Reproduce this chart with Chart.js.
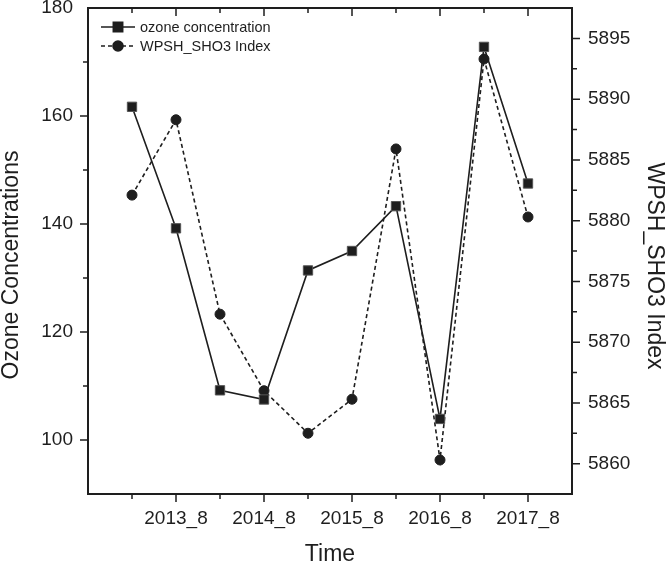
<!DOCTYPE html>
<html lang="en">
<head>
    <meta charset="UTF-8">
    <title>Ozone concentration and WPSH_SHO3 Index</title>
    <script src="https://cdn.jsdelivr.net/npm/chart.js"></script>
    <style>
        html, body {
            margin: 0;
            padding: 0;
            background: #fff;
        }
        .chart-container {
            width: 666px;
            height: 565px;
        }
    </style>
</head>
<body>
    <div class="chart-container">
        <canvas id="ozoneChart"></canvas>
    </div>
    <script>
        // point positions on the time axis (half-year steps)
        const positions = [1, 2, 3, 4, 5, 6, 7, 8, 9, 10];
        const ozone = [161.7, 139.2, 109.2, 107.5, 131.4, 135.0, 143.3, 103.9, 172.8, 147.5];
        const wpsh = [5882.1, 5888.3, 5872.3, 5866.0, 5862.5, 5865.3, 5885.9, 5860.3, 5893.3, 5880.3];
        const xTickPos = [2, 4, 6, 8, 10];
        const xTickLabels = ['2013_8', '2014_8', '2015_8', '2016_8', '2017_8'];
        const leftTicks = [100, 120, 140, 160, 180];
        const rightTicks = [5860, 5865, 5870, 5875, 5880, 5885, 5890, 5895];

        const FONT = "'Liberation Sans', Arial, sans-serif";
        const INK = '#1e1e1e';

        function fixedSize(size) {
            return function(scale) {
                if (scale.isHorizontal()) {
                    scale.height = size;
                } else {
                    scale.width = size;
                }
                scale.paddingTop = 0;
                scale.paddingBottom = 0;
                scale.paddingLeft = 0;
                scale.paddingRight = 0;
            };
        }

        // axis frame with major and minor ticks
        const framePlugin = {
            id: 'frame',
            afterDraw(chart) {
                const { ctx, chartArea: { left, right, top, bottom } } = chart;
                const x = chart.scales.x, yl = chart.scales.y, yr = chart.scales.y1;
                ctx.save();
                ctx.strokeStyle = INK;
                ctx.lineWidth = 2;
                ctx.strokeRect(left, top, right - left, bottom - top);
                ctx.lineWidth = 1.5;
                ctx.beginPath();
                for (let v = x.min + 1; v < x.max; v++) {
                    const px = x.getPixelForValue(v);
                    const len = xTickPos.includes(v) ? 8 : 5;
                    ctx.moveTo(px, bottom); ctx.lineTo(px, bottom + len);
                    ctx.moveTo(px, top); ctx.lineTo(px, top + len);
                }
                for (let v = yl.min + 10; v < yl.max; v += 10) {
                    const py = yl.getPixelForValue(v);
                    const len = leftTicks.includes(v) ? 8 : 5;
                    ctx.moveTo(left, py); ctx.lineTo(left - len, py);
                }
                for (let v = yr.min + 2.5; v < yr.max; v += 2.5) {
                    const py = yr.getPixelForValue(v);
                    const len = rightTicks.includes(v) ? 8 : 5;
                    ctx.moveTo(right, py); ctx.lineTo(right + len, py);
                }
                ctx.stroke();

                // axis titles
                ctx.fillStyle = INK;
                ctx.font = '23px ' + FONT;
                ctx.textAlign = 'center';
                ctx.textBaseline = 'middle';
                ctx.fillText('Time', (left + right) / 2, 555);
                ctx.save();
                ctx.translate(12, 265);
                ctx.rotate(-Math.PI / 2);
                ctx.fillText('Ozone Concentrations', 0, 0);
                ctx.restore();
                ctx.save();
                ctx.translate(654, 266);
                ctx.rotate(Math.PI / 2);
                ctx.fillText('WPSH_SHO3 Index', 0, 0);
                ctx.restore();

                // legend: line sample + marker + label
                ctx.font = '14.5px ' + FONT;
                ctx.textAlign = 'left';
                chart.data.datasets.forEach((ds, i) => {
                    const cy = 27 + i * 19;
                    ctx.strokeStyle = INK;
                    ctx.lineWidth = ds.borderWidth;
                    ctx.setLineDash(ds.borderDash || []);
                    ctx.beginPath();
                    ctx.moveTo(101, cy); ctx.lineTo(135, cy);
                    ctx.stroke();
                    ctx.setLineDash([]);
                    Chart.helpers.drawPoint(ctx, {
                        pointStyle: ds.pointStyle,
                        radius: ds.pointRadius,
                        borderWidth: 1
                    }, 118, cy);
                    ctx.fillStyle = INK;
                    ctx.fillText(ds.label, 140, cy + 1);
                });
                ctx.restore();
            }
        };

        const ctx = document.getElementById('ozoneChart').getContext('2d');
        const chart = new Chart(ctx, {
            type: 'line',
            data: {
                datasets: [{
                    label: 'ozone concentration',
                    data: positions.map((p, i) => ({ x: p, y: ozone[i] })),
                    yAxisID: 'y',
                    borderColor: INK,
                    backgroundColor: INK,
                    borderWidth: 1.6,
                    pointStyle: 'rect',
                    pointRadius: 6.6,
                    pointBorderColor: '#555',
                    pointBorderWidth: 1,
                    tension: 0
                }, {
                    label: 'WPSH_SHO3 Index',
                    data: positions.map((p, i) => ({ x: p, y: wpsh[i] })),
                    yAxisID: 'y1',
                    borderColor: INK,
                    backgroundColor: INK,
                    borderWidth: 1.6,
                    borderDash: [4, 3],
                    pointStyle: 'circle',
                    pointRadius: 5,
                    pointBorderColor: INK,
                    pointBorderWidth: 1,
                    tension: 0
                }]
            },
            options: {
                responsive: true,
                maintainAspectRatio: false,
                animation: false,
                layout: { padding: { top: 8, left: 0, right: 0, bottom: 0 } },
                scales: {
                    x: {
                        type: 'linear',
                        min: 0,
                        max: 11,
                        grid: { display: false, drawTicks: false },
                        border: { display: false },
                        afterFit: fixedSize(71),
                        afterBuildTicks: scale => {
                            scale.ticks = xTickPos.map(v => ({ value: v }));
                        },
                        ticks: {
                            padding: 13,
                            maxRotation: 0,
                            autoSkip: false,
                            color: INK,
                            font: { family: FONT, size: 19 },
                            callback: value => xTickLabels[xTickPos.indexOf(value)]
                        }
                    },
                    y: {
                        position: 'left',
                        min: 90,
                        max: 180,
                        grid: { display: false, drawTicks: false },
                        border: { display: false },
                        afterFit: fixedSize(88),
                        afterBuildTicks: scale => {
                            scale.ticks = leftTicks.map(v => ({ value: v }));
                        },
                        ticks: {
                            padding: 15,
                            color: INK,
                            font: { family: FONT, size: 19 }
                        }
                    },
                    y1: {
                        position: 'right',
                        min: 5857.5,
                        max: 5897.5,
                        grid: { display: false, drawTicks: false },
                        border: { display: false },
                        afterFit: fixedSize(94),
                        afterBuildTicks: scale => {
                            scale.ticks = rightTicks.map(v => ({ value: v }));
                        },
                        ticks: {
                            padding: 16,
                            color: INK,
                            font: { family: FONT, size: 19 },
                            callback: value => String(value)
                        }
                    }
                },
                plugins: {
                    legend: { display: false },
                    tooltip: { enabled: false }
                }
            },
            plugins: [framePlugin]
        });
    </script>
</body>
</html>
